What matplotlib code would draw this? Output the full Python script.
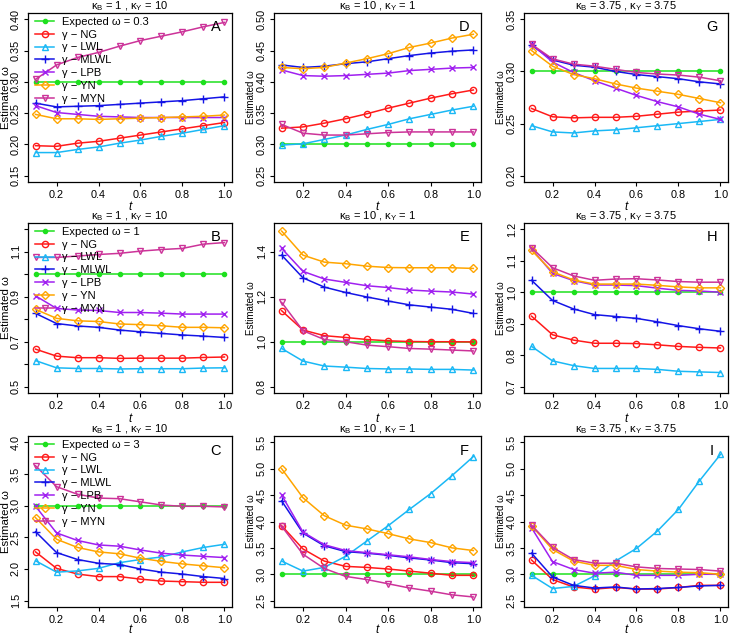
import numpy as np
import matplotlib.pyplot as plt

plt.rcParams['font.family'] = ['Liberation Sans', 'DejaVu Sans']
plt.rcParams['mathtext.fontset'] = 'custom'
plt.rcParams['mathtext.rm'] = 'Liberation Sans'
plt.rcParams['mathtext.it'] = 'Liberation Sans:italic'

t = [0.1, 0.2, 0.3, 0.4, 0.5, 0.6, 0.7, 0.8, 0.9, 1.0]
methods = ['NG', 'LWL', 'MLWL', 'LPB', 'YN', 'MYN']
expected = [0.3, 1, 3]
expected_labels = ['0.3', '1', '3']
titles = [r'κ$_\mathrm{B}$ = 1 , κ$_\mathrm{Y}$ = 10',
          r'κ$_\mathrm{B}$ = 10 , κ$_\mathrm{Y}$ = 1',
          r'κ$_\mathrm{B}$ = 3.75 , κ$_\mathrm{Y}$ = 3.75']
letters = [['A', 'D', 'G'], ['B', 'E', 'H'], ['C', 'F', 'I']]

# row 1: omega = 0.3
A_NG = [0.198, 0.197, 0.202, 0.205, 0.210, 0.215, 0.220, 0.225, 0.230, 0.235]
A_LWL = [0.187, 0.187, 0.192, 0.196, 0.202, 0.207, 0.213, 0.218, 0.224, 0.230]
A_MLWL = [0.266, 0.260, 0.261, 0.262, 0.264, 0.266, 0.268, 0.270, 0.273, 0.276]
A_LPB = [0.262, 0.251, 0.248, 0.245, 0.244, 0.243, 0.243, 0.243, 0.243, 0.243]
A_YN = [0.248, 0.241, 0.241, 0.240, 0.241, 0.242, 0.243, 0.244, 0.245, 0.247]
A_MYN = [0.304, 0.327, 0.339, 0.347, 0.357, 0.366, 0.373, 0.380, 0.388, 0.395]

D_NG = [0.326, 0.328, 0.334, 0.341, 0.349, 0.358, 0.366, 0.374, 0.381, 0.387]
D_LWL = [0.299, 0.301, 0.308, 0.315, 0.324, 0.332, 0.341, 0.348, 0.355, 0.361]
D_MLWL = [0.427, 0.423, 0.425, 0.429, 0.432, 0.437, 0.442, 0.446, 0.449, 0.451]
D_LPB = [0.419, 0.410, 0.409, 0.410, 0.412, 0.414, 0.418, 0.420, 0.422, 0.423]
D_YN = [0.423, 0.421, 0.423, 0.430, 0.437, 0.445, 0.455, 0.462, 0.470, 0.476]
D_MYN = [0.332, 0.318, 0.315, 0.315, 0.317, 0.319, 0.320, 0.320, 0.320, 0.320]

G_NG = [0.2645, 0.2565, 0.2555, 0.256, 0.256, 0.257, 0.259, 0.261, 0.262, 0.263]
G_LWL = [0.248, 0.242, 0.241, 0.243, 0.244, 0.246, 0.248, 0.250, 0.252, 0.254]
G_MLWL = [0.325, 0.311, 0.306, 0.304, 0.300, 0.297, 0.295, 0.293, 0.290, 0.288]
G_LPB = [0.326, 0.309, 0.299, 0.291, 0.284, 0.277, 0.271, 0.266, 0.259, 0.254]
G_YN = [0.320, 0.305, 0.297, 0.293, 0.288, 0.284, 0.281, 0.278, 0.274, 0.270]
G_MYN = [0.326, 0.312, 0.307, 0.305, 0.302, 0.299, 0.2975, 0.2965, 0.2945, 0.291]

# row 2: omega = 1
B_NG = [0.667, 0.636, 0.629, 0.629, 0.626, 0.627, 0.627, 0.627, 0.630, 0.632]
B_LWL = [0.616, 0.584, 0.581, 0.581, 0.579, 0.580, 0.580, 0.580, 0.583, 0.584]
B_MLWL = [0.826, 0.781, 0.770, 0.764, 0.752, 0.744, 0.737, 0.730, 0.725, 0.719]
B_LPB = [0.904, 0.848, 0.841, 0.839, 0.830, 0.830, 0.827, 0.823, 0.823, 0.823]
B_YN = [0.844, 0.804, 0.793, 0.790, 0.779, 0.776, 0.771, 0.764, 0.764, 0.762]
B_MYN = [1.075, 1.075, 1.081, 1.088, 1.093, 1.103, 1.110, 1.115, 1.134, 1.141]

E_NG = [1.138, 1.052, 1.027, 1.019, 1.010, 1.004, 1.001, 1.000, 1.000, 0.999]
E_LWL = [0.970, 0.914, 0.892, 0.887, 0.881, 0.879, 0.879, 0.877, 0.877, 0.874]
E_MLWL = [1.385, 1.284, 1.243, 1.219, 1.199, 1.181, 1.164, 1.154, 1.144, 1.126]
E_LPB = [1.415, 1.313, 1.279, 1.264, 1.249, 1.241, 1.230, 1.225, 1.221, 1.212]
E_YN = [1.492, 1.385, 1.354, 1.347, 1.336, 1.330, 1.329, 1.329, 1.329, 1.326]
E_MYN = [1.175, 1.049, 1.010, 1.000, 0.985, 0.978, 0.970, 0.967, 0.963, 0.959]

H_NG = [0.924, 0.865, 0.848, 0.838, 0.838, 0.837, 0.833, 0.828, 0.825, 0.823]
H_LWL = [0.828, 0.782, 0.767, 0.758, 0.758, 0.758, 0.755, 0.749, 0.747, 0.745]
H_MLWL = [1.038, 0.974, 0.947, 0.929, 0.923, 0.917, 0.906, 0.894, 0.884, 0.876]
H_LPB = [1.138, 1.060, 1.037, 1.023, 1.023, 1.021, 1.013, 1.006, 1.004, 1.000]
H_YN = [1.133, 1.065, 1.039, 1.026, 1.026, 1.026, 1.022, 1.017, 1.014, 1.014]
H_MYN = [1.142, 1.078, 1.052, 1.038, 1.042, 1.043, 1.039, 1.034, 1.032, 1.032]

# row 3: omega = 3
C_NG = [2.27, 2.01, 1.92, 1.88, 1.88, 1.84, 1.81, 1.80, 1.79, 1.79]
C_LWL = [2.13, 1.95, 1.97, 2.01, 2.10, 2.15, 2.19, 2.27, 2.34, 2.39]
C_MLWL = [2.59, 2.26, 2.15, 2.09, 2.07, 2.00, 1.95, 1.92, 1.88, 1.85]
C_LPB = [2.99, 2.57, 2.45, 2.38, 2.36, 2.30, 2.25, 2.22, 2.20, 2.18]
C_YN = [2.81, 2.47, 2.34, 2.27, 2.24, 2.17, 2.12, 2.08, 2.05, 2.02]
C_MYN = [3.63, 3.30, 3.18, 3.12, 3.11, 3.06, 3.01, 2.99, 2.99, 2.98]

F_NG = [3.92, 3.48, 3.25, 3.15, 3.13, 3.10, 3.06, 3.02, 2.98, 2.98]
F_LWL = [3.25, 3.06, 3.13, 3.34, 3.63, 3.92, 4.23, 4.53, 4.87, 5.23]
F_MLWL = [4.39, 3.78, 3.54, 3.43, 3.40, 3.36, 3.31, 3.27, 3.22, 3.20]
F_LPB = [4.50, 3.80, 3.56, 3.45, 3.41, 3.37, 3.33, 3.28, 3.24, 3.22]
F_YN = [5.00, 4.45, 4.11, 3.93, 3.86, 3.77, 3.67, 3.60, 3.50, 3.45]
F_MYN = [3.91, 3.38, 3.11, 2.96, 2.90, 2.82, 2.74, 2.68, 2.61, 2.57]

I_NG = [3.27, 2.90, 2.76, 2.72, 2.75, 2.72, 2.72, 2.75, 2.79, 2.79]
I_LWL = [2.98, 2.73, 2.77, 2.97, 3.25, 3.49, 3.82, 4.23, 4.77, 5.27]
I_MLWL = [3.40, 2.95, 2.79, 2.74, 2.76, 2.72, 2.73, 2.75, 2.78, 2.79]
I_LPB = [3.88, 3.24, 3.09, 3.02, 3.04, 2.98, 2.98, 2.98, 3.00, 3.00]
I_YN = [3.92, 3.47, 3.25, 3.17, 3.17, 3.09, 3.06, 3.04, 3.03, 3.00]
I_MYN = [3.93, 3.51, 3.28, 3.21, 3.21, 3.14, 3.11, 3.10, 3.09, 3.06]

# y tick positions and which ones carry a label
A_ticks = [0.15, 0.20, 0.25, 0.30, 0.35, 0.40]
D_ticks = [0.25, 0.30, 0.35, 0.40, 0.45, 0.50]
G_ticks = [0.20, 0.25, 0.30, 0.35]
B_ticks = [0.5, 0.6, 0.7, 0.8, 0.9, 1.0, 1.1, 1.2]
B_shown = [0.5, 0.7, 0.9, 1.1]
E_ticks = [0.8, 1.0, 1.2, 1.4]
H_ticks = [0.7, 0.8, 0.9, 1.0, 1.1, 1.2]
C_ticks = [1.5, 2.0, 2.5, 3.0, 3.5, 4.0]
F_ticks = [2.5, 3.0, 3.5, 4.0, 4.5, 5.0, 5.5]
I_ticks = F_ticks
ylims = {'A': (0.15, 0.40), 'D': (0.25, 0.50), 'G': (0.20, 0.35),
         'B': (0.5, 1.2), 'E': (0.8, 1.5), 'H': (0.7, 1.2),
         'C': (1.5, 4.0), 'F': (2.5, 5.5), 'I': (2.5, 5.5)}

colors = ['#ff1a1a', '#1ab8f5', '#1414e6', '#a020f0', '#ffa500', '#cc3399']
green = '#1ee01e'
markers = ['o', '^', '+', 'x', 'D', 'v']
msizes = [4.5, 5, 6, 5, 4, 5]

data = globals()
fig = plt.figure(figsize=(7.3, 6.36), dpi=100)
W, H = 730.0, 636.0
lefts = [28, 274, 524]
widths = [204, 207, 204]
tops = [13, 223, 436]
heights = [169, 170, 171]
ylab_x = [-0.083, -0.087, -0.088]
xlab_y = [-0.115, -0.115, -0.097]

for r in range(3):
    for c in range(3):
        L = letters[r][c]
        ax = fig.add_axes([lefts[c] / W, 1 - (tops[r] + heights[r]) / H,
                           widths[c] / W, heights[r] / H])
        ax.plot(t, np.full(len(t), expected[r]), color=green, marker='o', ms=3,
                lw=1.1, label='Expected ω = ' + expected_labels[r])
        for m, col, mk, ms in zip(methods, colors, markers, msizes):
            filled = mk in ('+', 'x')
            ax.plot(t, data[L + '_' + m], color=col, marker=mk, ms=ms, lw=1.1,
                    mfc=col if filled else 'none', mew=1.0, label='γ − ' + m)
        lo, hi = ylims[L]
        pad = 0.04 * (hi - lo)
        ax.set_ylim(lo - pad, hi + pad)
        ax.set_xlim(0.1 - 0.036, 1.0 + 0.036)
        ax.set_xticks([0.2, 0.4, 0.6, 0.8, 1.0])
        ax.set_xticklabels(['0.2', '0.4', '0.6', '0.8', '1.0'])
        ticks = data[L + '_ticks']
        shown = data.get(L + '_shown', ticks)
        fmt = '{:.2f}' if r == 0 else '{:.1f}'
        ax.set_yticks(ticks)
        ax.set_yticklabels([fmt.format(v) if v in shown else '' for v in ticks],
                           rotation=90, va='center')
        ax.tick_params(direction='out', length=2.6, width=0.8, labelsize=7.8,
                       colors='black')
        ax.tick_params(axis='x', pad=3)
        ax.tick_params(axis='y', pad=2.5)
        for s in ax.spines.values():
            s.set_linewidth(0.9)
        ax.set_title(titles[c], fontsize=8, pad=1.5)
        ax.set_xlabel('t', fontsize=8.5, style='italic')
        ax.xaxis.set_label_coords(0.5, xlab_y[r])
        ax.set_ylabel('Estimated ω', fontsize=8.2 if c == 0 else 7)
        ax.yaxis.set_label_coords(ylab_x[c], 0.5)
        ax.text(0.92, 0.915, L, transform=ax.transAxes, fontsize=10.5,
                ha='center', va='center')
        if c == 0:
            ax.legend(loc='upper left', bbox_to_anchor=(0.015, 1.0), frameon=False,
                      fontsize=8, handlelength=1.75, handletextpad=0.7,
                      labelspacing=0.25, borderaxespad=0.2, borderpad=0.15)

plt.savefig('out.png', dpi=100)
